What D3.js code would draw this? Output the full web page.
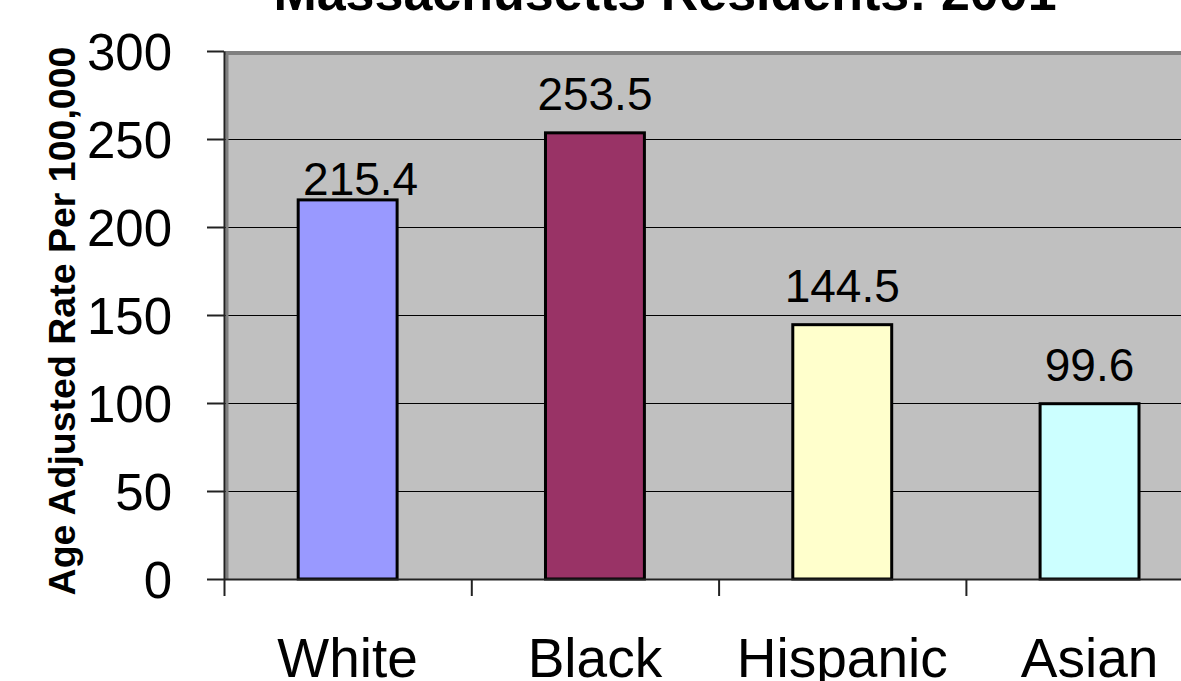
<!DOCTYPE html>
<html>
<head>
<meta charset="utf-8">
<script src="https://cdn.jsdelivr.net/npm/d3@7"></script>
<style>
  body { margin: 0; background: #fff; }
  svg { display: block; font-family: "Liberation Sans", Arial, sans-serif; }
</style>
</head>
<body>
<svg id="chart" width="1181" height="681"></svg>
<script>
const categories = ["White", "Black", "Hispanic", "Asian"]
const rates = [215.4, 253.5, 144.5, 99.6]
const yTicks = [0, 50, 100, 150, 200, 250, 300]
const barColors = ["#9999FF", "#993366", "#FFFFCC", "#CCFFFF"]
const titleText = "Massachusetts Residents: 2001"
const yTitle = "Age Adjusted Rate Per 100,000"

// label nudges (Excel placed the White label by hand)
const labelNudge = { White: { dx: 13, gap: 5 } }

const plotLeft = 224
const bandW = 247.3
const plotTop = 51
const plotBottom = 579
const plotRight = plotLeft + bandW * categories.length

const svg = d3.select("#chart")

const x = d3.scaleBand()
  .domain(categories)
  .range([plotLeft, plotRight])
  .paddingInner(0.6)
  .paddingOuter(0.3)

const y = d3.scaleLinear().domain([0, 300]).range([plotBottom, plotTop])

// plot area
svg.append("rect")
  .attr("x", plotLeft)
  .attr("y", plotTop)
  .attr("width", plotRight - plotLeft)
  .attr("height", plotBottom - plotTop)
  .attr("fill", "#C0C0C0")

// gridlines
svg.append("g")
  .selectAll("line")
  .data(yTicks.filter(d => d > 0 && d < 300))
  .join("line")
  .attr("x1", plotLeft)
  .attr("x2", plotRight)
  .attr("y1", d => y(d) + 0.5)
  .attr("y2", d => y(d) + 0.5)
  .attr("stroke", "#000")
  .attr("stroke-width", 1)

// plot border (top & left)
svg.append("line")
  .attr("x1", plotLeft).attr("x2", plotRight)
  .attr("y1", plotTop + 2).attr("y2", plotTop + 2)
  .attr("stroke", "#808080").attr("stroke-width", 4)
svg.append("line")
  .attr("x1", plotLeft + 3).attr("x2", plotLeft + 3)
  .attr("y1", plotTop).attr("y2", plotBottom)
  .attr("stroke", "#808080").attr("stroke-width", 3)

// bars
svg.append("g")
  .selectAll("rect")
  .data(categories)
  .join("rect")
  .attr("x", d => x(d))
  .attr("y", (d, i) => y(rates[i]))
  .attr("width", x.bandwidth())
  .attr("height", (d, i) => y(0) - y(rates[i]))
  .attr("fill", (d, i) => barColors[i])
  .attr("stroke", "#000")
  .attr("stroke-width", 3)

// value labels
svg.append("g")
  .selectAll("text")
  .data(categories)
  .join("text")
  .attr("x", d => x(d) + x.bandwidth() / 2 + ((labelNudge[d] || {}).dx || 0))
  .attr("y", (d, i) => y(rates[i]) - ((labelNudge[d] || {}).gap || 23))
  .attr("text-anchor", "middle")
  .attr("font-size", 46)
  .attr("fill", "#000")
  .text((d, i) => rates[i].toFixed(1))

// y axis
const yAxis = svg.append("g")
  .attr("transform", `translate(${plotLeft},0)`)
  .call(d3.axisLeft(y).tickValues(yTicks).tickSize(17).tickPadding(35).tickSizeOuter(0))
yAxis.select(".domain").attr("stroke", "#222").attr("stroke-width", 2)
yAxis.selectAll(".tick line").attr("stroke", "#222").attr("stroke-width", 2)
yAxis.selectAll(".tick text")
  .attr("font-size", 51)
  .attr("font-family", "Liberation Sans, Arial, sans-serif")
  .attr("fill", "#000")
  .attr("dy", "0.36em")

// x axis
const xTickScale = d3.scaleLinear().domain([0, categories.length]).range([plotLeft, plotRight])
const xAxis = svg.append("g")
  .attr("transform", `translate(0,${plotBottom})`)
  .call(d3.axisBottom(xTickScale).tickValues(d3.range(categories.length + 1)).tickSize(17).tickFormat("").tickSizeOuter(0))
xAxis.select(".domain").attr("stroke", "#222").attr("stroke-width", 2)
xAxis.selectAll(".tick line").attr("stroke", "#222").attr("stroke-width", 2)

// category labels
svg.append("g")
  .selectAll("text")
  .data(categories)
  .join("text")
  .attr("x", d => x(d) + x.bandwidth() / 2)
  .attr("y", 677)
  .attr("text-anchor", "middle")
  .attr("font-size", 55)
  .attr("fill", "#000")
  .text(d => d)

// y axis title
svg.append("text")
  .attr("transform", "translate(75,321) rotate(-90)")
  .attr("text-anchor", "middle")
  .attr("font-size", 37.5)
  .attr("font-weight", "bold")
  .attr("fill", "#000")
  .text(yTitle)

// chart title (cut off at top in the original)
svg.append("text")
  .attr("x", 665)
  .attr("y", 10)
  .attr("text-anchor", "middle")
  .attr("font-size", 52)
  .attr("font-weight", "bold")
  .attr("fill", "#000")
  .text(titleText)
</script>
</body>
</html>
